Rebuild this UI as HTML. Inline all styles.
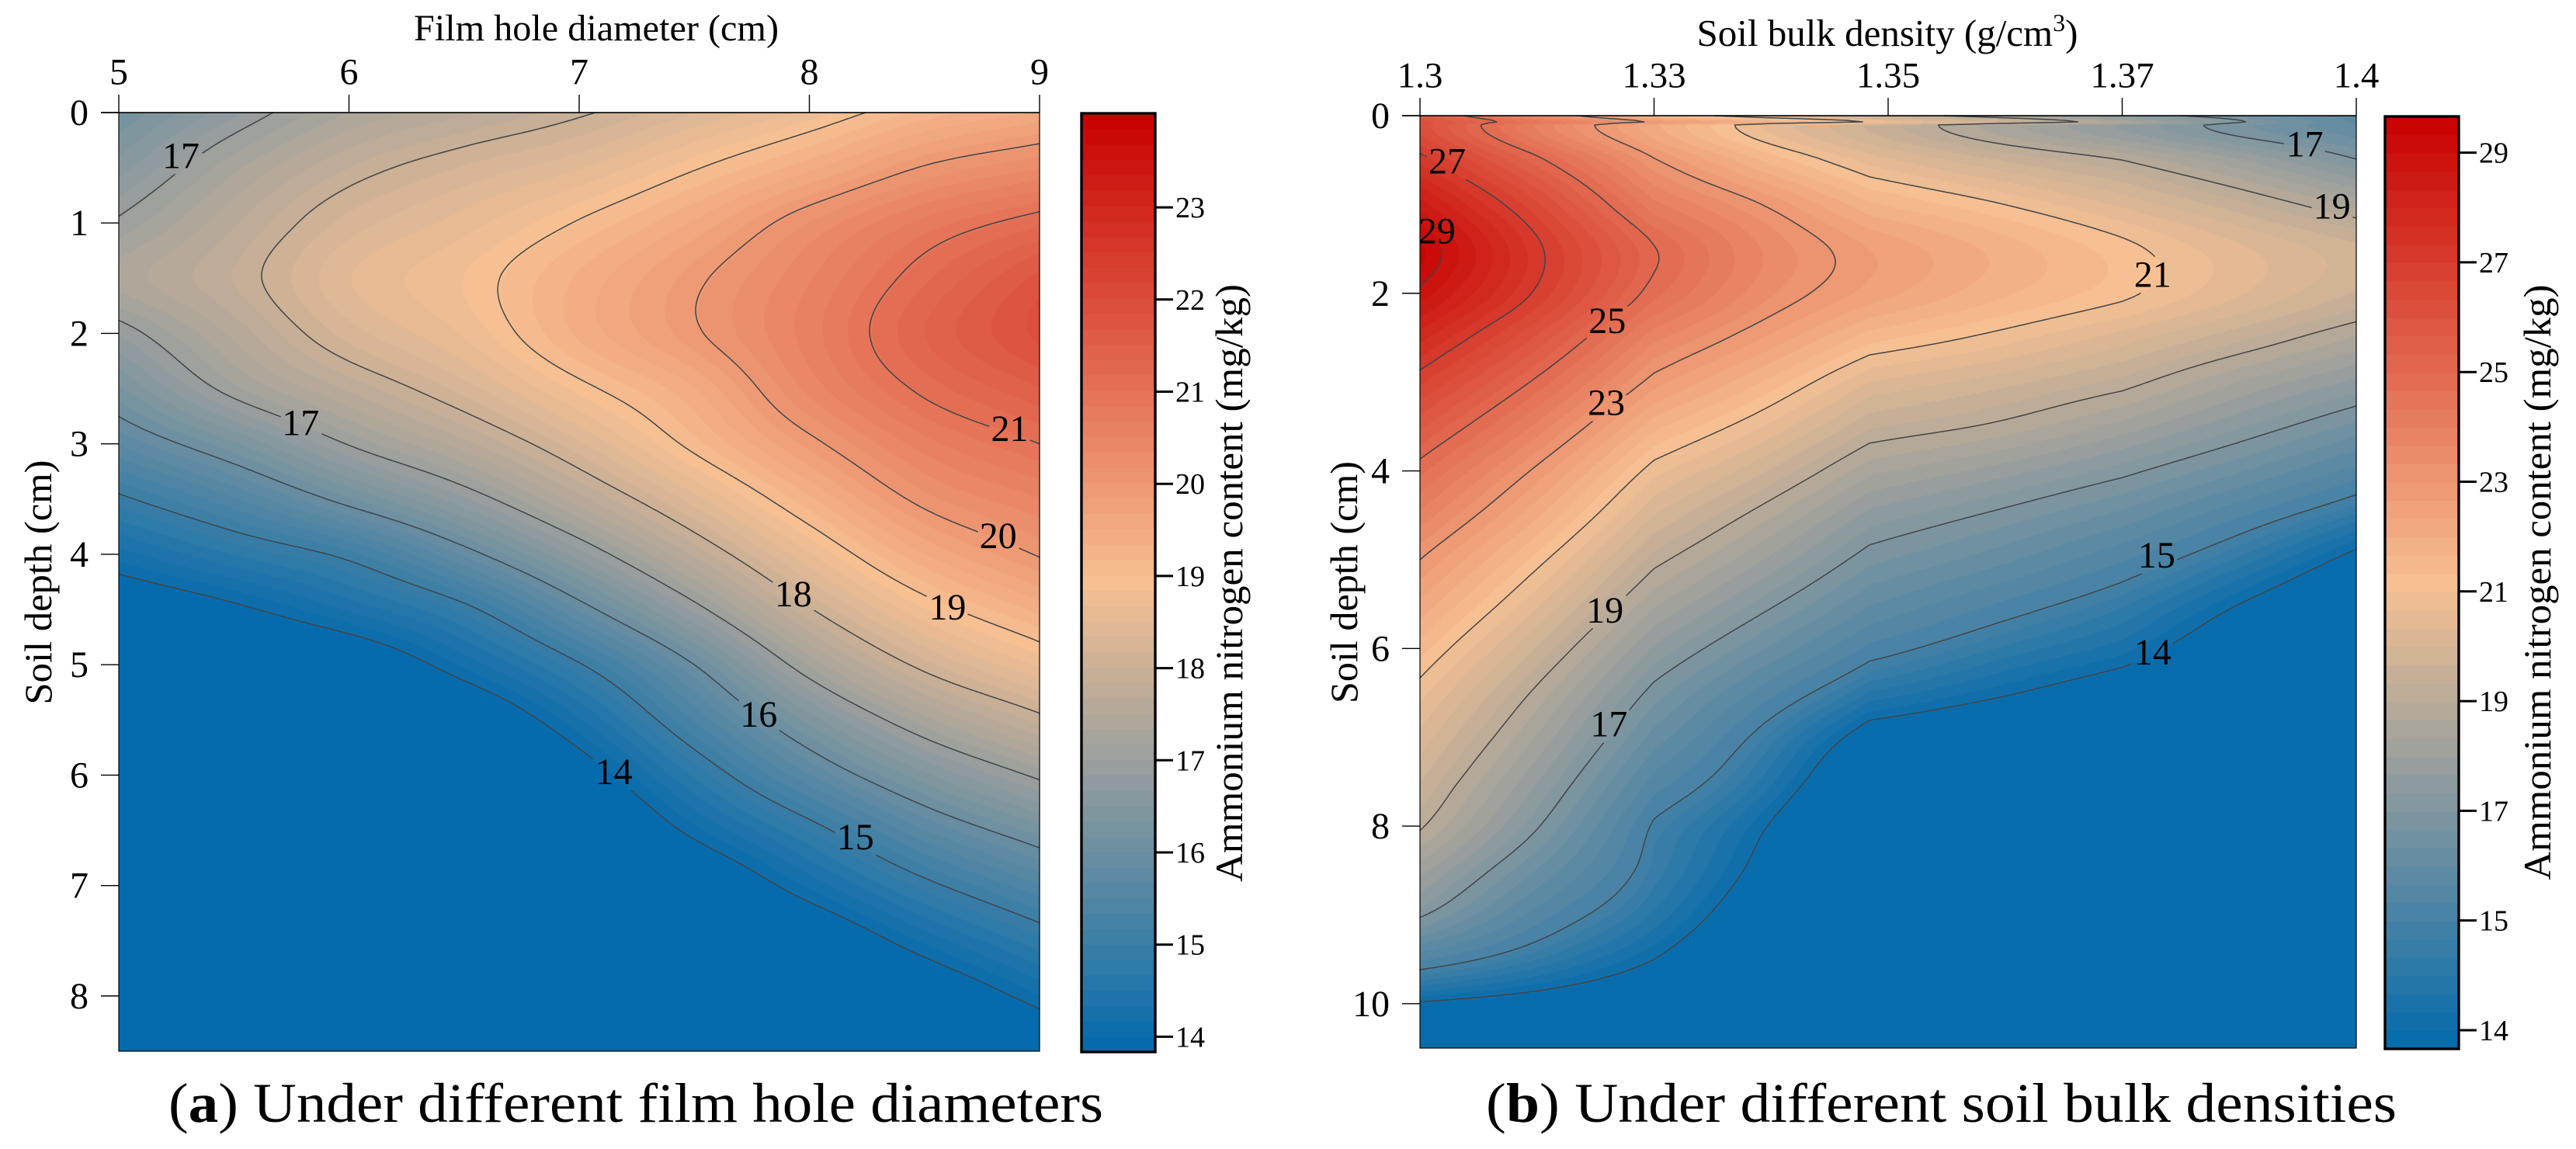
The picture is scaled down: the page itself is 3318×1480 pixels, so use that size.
<!DOCTYPE html>
<html lang="en">
<head>
<meta charset="utf-8">
<title>Ammonium nitrogen contour maps</title>
<style>
html,body{margin:0;padding:0;background:#fff;width:3318px;height:1480px;overflow:hidden}
svg{display:block;font-family:"Liberation Serif",serif;fill:#000}
</style>
</head>
<body>
<svg id="figure" width="3318" height="1480" viewBox="0 0 3318 1480" xmlns="http://www.w3.org/2000/svg">
<rect x="0" y="0" width="3318" height="1480" fill="#fff"/>
<g id="panel-a"></g>
<g id="panel-b"></g>
<text x="768" y="52" font-size="48" text-anchor="middle" textLength="470" lengthAdjust="spacingAndGlyphs">Film hole diameter (cm)</text>
<text transform="translate(66,750) rotate(-90)" font-size="50" text-anchor="middle" textLength="315" lengthAdjust="spacingAndGlyphs">Soil depth (cm)</text>
<text transform="translate(1600,751) rotate(-90)" font-size="50" text-anchor="middle" textLength="770" lengthAdjust="spacingAndGlyphs">Ammonium nitrogen content (mg/kg)</text>
<text x="217" y="1445" font-size="72" textLength="1204" lengthAdjust="spacingAndGlyphs">(<tspan font-weight="bold">a</tspan>) Under different film hole diameters</text>
<text x="2431" y="59" font-size="49" text-anchor="middle">Soil bulk density (g/cm<tspan font-size="32" dy="-19">3</tspan><tspan dy="19">)</tspan></text>
<text transform="translate(1748,750) rotate(-90)" font-size="50" text-anchor="middle" textLength="312" lengthAdjust="spacingAndGlyphs">Soil depth (cm)</text>
<text transform="translate(3285,750) rotate(-90)" font-size="50" text-anchor="middle" textLength="767" lengthAdjust="spacingAndGlyphs">Ammonium nitrogen content (mg/kg)</text>
<text x="1914" y="1445" font-size="72" textLength="1173" lengthAdjust="spacingAndGlyphs">(<tspan font-weight="bold">b</tspan>) Under different soil bulk densities</text>
</svg>
<script>
// ---- Panel (a): film hole diameter ----
const holeColumns = [5, 5.5, 6, 6.5, 7, 7.5, 8, 8.5, 9];
const depthRowsA = [0, 0.5, 1, 1.5, 2, 2.5, 3, 3.5, 4, 4.5, 5, 5.5, 6, 6.5, 7, 7.5, 8, 8.5];
const hole5  = [16.2,16.6,17.05,17.4,16.85,16.3,15.68,14.93,14.25,13.6,13.3,13.1,13,13,13,13,13,13];
const hole55 = [16.8,17.3,17.65,17.85,17.55,17.12,16.3,15.47,14.67,13.92,13.4,13.1,13,13,13,13,13,13];
const hole6  = [17.35,17.85,18.25,18.5,18.25,17.7,17.02,16.13,15.1,14.35,13.6,13.2,13,13,13,13,13,13];
const hole65 = [17.65,18.2,18.6,18.85,18.7,18.25,17.6,16.8,15.86,14.9,14.2,13.55,13.2,13,13,13,13,13];
const hole7  = [17.95,18.5,19.03,19.38,19.38,18.9,18.3,17.6,16.75,15.85,14.97,14.3,13.75,13.3,13,13,13,13];
const hole75 = [18.35,18.97,19.55,19.93,19.95,19.5,19.1,18.43,17.7,16.88,16,15.35,14.7,14.1,13.5,13.2,13,13];
const hole8  = [18.75,19.47,20.2,20.5,20.6,20.4,19.9,19.3,18.65,17.97,17.2,16.4,15.65,14.85,14.2,13.55,13.1,13];
const hole85 = [19.25,20.03,20.75,21.15,21.35,21.07,20.6,20.1,19.5,18.82,18.1,17.27,16.45,15.65,14.9,14.2,13.55,13];
const hole9  = [19.55,20.35,21.15,21.75,21.9,21.5,21,20.5,20.03,19.4,18.7,17.9,17.07,16.25,15.48,14.78,14.15,13.5];
const xTicksA = [5, 6, 7, 8, 9];
const xTickLabelsA = ['5', '6', '7', '8', '9'];
const yTicksA = [0, 1, 2, 3, 4, 5, 6, 7, 8];
const contourLevelsA = [14, 15, 16, 17, 18, 19, 20, 21];
const barTicksA = [14, 15, 16, 17, 18, 19, 20, 21, 22, 23];
const labelValuesA = ['17', '17', '21', '20', '19', '18', '16', '15', '14'];
const labelHoleA = [5.27, 5.79, 8.87, 8.82, 8.6, 7.93, 7.78, 8.2, 7.15];
const labelDepthA = [0.39, 2.81, 2.86, 3.83, 4.48, 4.36, 5.45, 6.56, 5.97];

// ---- Panel (b): soil bulk density ----
const densityColumns = [1.3, 1.3125, 1.325, 1.3365, 1.348, 1.3615, 1.375, 1.3875, 1.4];
const depthRowsB = [0, 0.07, 0.1, 0.5, 1, 1.5, 2, 2.5, 3, 3.5, 4, 4.5, 5, 5.5, 6, 6.5, 7, 7.5, 8, 8.5, 9, 9.5, 10, 10.5];
const density1300 = [25.8,26.2,26.2,27.22,28.5,29.42,28.87,27.78,26.72,25.72,24.75,23.88,23,22.24,21.47,20.78,20.2,19.65,19.08,18.11,17.08,15.36,13.95,13];
const density1312 = [23.7,24.4,23.94,25.15,26.4,27.12,26.9,25.9,24.88,23.87,22.88,22.03,21.17,20.38,19.6,18.88,18.27,17.66,17.05,16.28,15.49,14.65,13.75,13];
const density1325 = [21.7,22.87,22.08,23.05,24.1,25.03,24.75,23.75,22.8,21.75,20.78,19.97,19.16,18.37,17.57,16.82,16.16,15.5,14.93,14.75,14.45,14,13.5,13];
const density1336 = [20.5,21.9,20.67,21.66,23,23.65,23.45,22.65,21.63,20.65,19.7,18.8,18,17.18,16.35,15.5,14.85,14.45,14.05,13.85,13.6,13.3,13,13];
const density1348 = [19.6,20.94,19.6,20.53,21.75,22.65,22.5,21.45,20.3,19.36,18.41,17.52,16.75,16,15.22,14.46,13.75,13.3,13,13,13,13,13,13];
const density1361 = [18.57,19.8,18.52,19.7,21.05,21.9,21.75,20.85,19.8,18.9,17.83,16.9,16.1,15.3,14.65,14.07,13.5,13.2,13,13,13,13,13,13];
const density1375 = [17.45,18.56,17.6,19,20.27,21.15,21.12,20.15,19.2,18.17,17.15,16.2,15.35,14.7,14.23,13.7,13.3,13,13,13,13,13,13,13];
const density1387 = [16.57,17.07,16.75,18.05,19.45,20.4,20.35,19.4,18.3,17.35,16.35,15.35,14.6,14,13.6,13.2,13,13,13,13,13,13,13,13];
const density1400 = [15.8,15.95,16,17.03,18.57,19.75,19.6,18.6,17.55,16.53,15.5,14.6,13.85,13.4,13.1,13,13,13,13,13,13,13,13,13];
const xTicksB = [1.3, 1.325, 1.35, 1.375, 1.4];
const xTickLabelsB = ['1.3', '1.33', '1.35', '1.37', '1.4'];
const yTicksB = [0, 2, 4, 6, 8, 10];
const contourLevelsB = [14, 15, 17, 19, 21, 23, 25, 27, 29];
const barTicksB = [14, 15, 17, 19, 21, 23, 25, 27, 29];
const labelValuesB = ['27', '29', '25', '23', '21', '19', '17', '19', '17', '15', '14'];
const labelDensityB = [1.3029, 1.3018, 1.32, 1.3199, 1.37825, 1.3974, 1.3945, 1.31975, 1.32018, 1.37868, 1.37825];
const labelDepthB = [0.51, 1.3, 2.31, 3.23, 1.79, 1.02, 0.32, 5.57, 6.85, 4.95, 6.04];

const SVGNS = 'http://www.w3.org/2000/svg';
function svgEl(tag, attrs, parent) {
  const e = document.createElementNS(SVGNS, tag);
  for (const k in attrs) e.setAttribute(k, attrs[k]);
  parent.appendChild(e);
  return e;
}
// depth-direction tangents: central differences, limited where knot spacing changes abruptly
function depthSlopes(xs, ys) {
  const n = xs.length, m = new Array(n), h = [], s = [];
  for (let i = 0; i < n - 1; i++) { h[i] = xs[i + 1] - xs[i]; s[i] = (ys[i + 1] - ys[i]) / h[i]; }
  m[0] = s[0]; m[n - 1] = s[n - 2];
  for (let i = 1; i < n - 1; i++) {
    const ratio = Math.max(h[i], h[i - 1]) / Math.min(h[i], h[i - 1]);
    if (ratio > 1.5) {
      if (s[i - 1] * s[i] <= 0) m[i] = 0;
      else {
        const w1 = 2 * h[i] + h[i - 1], w2 = h[i] + 2 * h[i - 1];
        m[i] = (w1 + w2) / (w1 / s[i - 1] + w2 / s[i]);
      }
    } else {
      m[i] = (s[i - 1] * h[i] + s[i] * h[i - 1]) / (h[i] + h[i - 1]);
    }
  }
  return m;
}
function hermite(xs, ys, m, x) {
  let i = 0;
  const n = xs.length;
  if (x <= xs[0]) return ys[0];
  if (x >= xs[n - 1]) return ys[n - 1];
  while (i < n - 2 && x > xs[i + 1]) i++;
  const h = xs[i + 1] - xs[i], t = (x - xs[i]) / h, t2 = t * t, t3 = t2 * t;
  return (2 * t3 - 3 * t2 + 1) * ys[i] + (t3 - 2 * t2 + t) * h * m[i] + (-2 * t3 + 3 * t2) * ys[i + 1] + (t3 - t2) * h * m[i + 1];
}
function colorAt(t) {
  const blue = [2, 106, 173], orange = [247, 192, 146], red = [200, 0, 0];
  const a = t < 0.5 ? blue : orange, b = t < 0.5 ? orange : red;
  const f = t < 0.5 ? t * 2 : (t - 0.5) * 2;
  return 'rgb(' + [0, 1, 2].map(i => Math.round(a[i] + (b[i] - a[i]) * f)).join(',') + ')';
}

function drawPanel(cfg) {
  const root = document.getElementById(cfg.id);
  const W = cfg.right - cfg.left, H = cfg.bottom - cfg.top;
  const xScale = v => (v - cfg.xMin) / (cfg.xMax - cfg.xMin) * W;
  const yScale = d => (d - cfg.dMin) / (cfg.dMax - cfg.dMin) * H;
  const bandOf = z => {
    const t = Math.max(0, Math.min(0.9999, cfg.fraction(z)));
    return Math.floor(t * cfg.bands);
  };

  // evaluate the value field
  const colX = cfg.columns.map(xScale);
  const nc = colX.length;
  const colSlopes = cfg.series.map(s => depthSlopes(cfg.depths, s));
  const stepY = 2, nx = W + 1, ny = Math.floor(H / stepY) + 1;
  const field = new Float32Array(nx * ny);
  const mL = new Array(nc), mR = new Array(nc);
  for (let r = 0; r < ny; r++) {
    const d = cfg.dMin + (r * stepY) / H * (cfg.dMax - cfg.dMin);
    const vals = cfg.series.map((s, c) => hermite(cfg.depths, s, colSlopes[c], d));
    for (let c = 0; c < nc; c++) {
      const sl = c > 0 ? (vals[c] - vals[c - 1]) / (colX[c] - colX[c - 1]) : null;
      const sr = c < nc - 1 ? (vals[c + 1] - vals[c]) / (colX[c + 1] - colX[c]) : null;
      if (sl === null) { mL[c] = mR[c] = sr; }
      else if (sr === null) { mL[c] = mR[c] = sl; }
      else if (cfg.kinks.indexOf(c) >= 0) { mL[c] = sl; mR[c] = sr; }
      else {
        const h0 = colX[c] - colX[c - 1], h1 = colX[c + 1] - colX[c];
        mL[c] = mR[c] = (sl * h1 + sr * h0) / (h0 + h1);
      }
    }
    let seg = 0;
    for (let x = 0; x < nx; x++) {
      while (seg < nc - 2 && x > colX[seg + 1]) seg++;
      const h = colX[seg + 1] - colX[seg], t = (x - colX[seg]) / h, t2 = t * t, t3 = t2 * t;
      field[r * nx + x] = (2 * t3 - 3 * t2 + 1) * vals[seg] + (t3 - 2 * t2 + t) * h * mR[seg] + (-2 * t3 + 3 * t2) * vals[seg + 1] + (t3 - t2) * h * mL[seg + 1];
    }
  }

  // plot group
  const plot = svgEl('g', { transform: 'translate(' + cfg.left + ',' + cfg.top + ')' }, root);
  
  

  // filled bands from horizontal runs
  const bandPaths = [];
  for (let i = 0; i < cfg.bands; i++) bandPaths.push([]);
  for (let r = 0; r < ny; r++) {
    const y = r * stepY;
    const rowH = Math.min(stepY, H - y);
    if (rowH <= 0) continue;
    let start = 0, cur = bandOf(field[r * nx]);
    for (let x = 1; x <= W; x++) {
      const b = x < W ? bandOf(field[r * nx + x]) : -1;
      if (b !== cur) {
        bandPaths[cur].push('M' + start + ' ' + y + 'h' + (x - start) + 'v' + rowH + 'h-' + (x - start) + 'z');
        start = x; cur = b;
      }
    }
  }
  bandPaths.forEach((parts, i) => {
    if (!parts.length) return;
    const p = svgEl('path', { d: parts.join(''), fill: colorAt((i + 0.5) / cfg.bands), 'shape-rendering': 'crispEdges' }, plot);
    
    
  });

  // contour lines
  const rects = cfg.labelValues.map((v, i) => ({ x: xScale(cfg.labelX[i]), y: yScale(cfg.labelDepth[i]) }));
  const inLabel = (x, y) => rects.some(q => Math.abs(x - q.x) < 27 && Math.abs(y - q.y) < 24);
  const stepX = 2;
  cfg.levels.forEach(level => {
    const parts = [];
    for (let r = 0; r < ny - 1; r++) {
      const y0 = r * stepY, y1 = (r + 1) * stepY;
      for (let x0 = 0; x0 + stepX < nx; x0 += stepX) {
        const x1 = x0 + stepX;
        const a = field[r * nx + x0], b = field[r * nx + x1], c = field[(r + 1) * nx + x1], d = field[(r + 1) * nx + x0];
        const idx = (a >= level ? 8 : 0) | (b >= level ? 4 : 0) | (c >= level ? 2 : 0) | (d >= level ? 1 : 0);
        if (idx === 0 || idx === 15) continue;
        const top = [x0 + (level - a) / (b - a) * stepX, y0];
        const right = [x1, y0 + (level - b) / (c - b) * stepY];
        const bot = [x0 + (level - d) / (c - d) * stepX, y1];
        const left = [x0, y0 + (level - a) / (d - a) * stepY];
        let segs = [];
        switch (idx) {
          case 1: case 14: segs = [[left, bot]]; break;
          case 2: case 13: segs = [[bot, right]]; break;
          case 3: case 12: segs = [[left, right]]; break;
          case 4: case 11: segs = [[top, right]]; break;
          case 6: case 9: segs = [[top, bot]]; break;
          case 7: case 8: segs = [[left, top]]; break;
          case 5: segs = [[left, top], [bot, right]]; break;
          case 10: segs = [[left, bot], [top, right]]; break;
        }
        segs.forEach(s => {
          const mx = (s[0][0] + s[1][0]) / 2, my = (s[0][1] + s[1][1]) / 2;
          if (inLabel(mx, my)) return;
          parts.push('M' + s[0][0].toFixed(1) + ' ' + s[0][1].toFixed(1) + 'L' + s[1][0].toFixed(1) + ' ' + s[1][1].toFixed(1));
        });
      }
    }
    const line = svgEl('path', { d: parts.join(''), fill: 'none', stroke: '#404548', 'stroke-width': 1.5, 'stroke-linecap': 'round' }, plot);
    
    
  });

  // contour labels, clipped to the plot
  const clip = svgEl('clipPath', { id: cfg.id + '-clip' }, plot);
  svgEl('rect', { x: 0, y: 0, width: W, height: H }, clip);
  const labels = svgEl('g', { 'clip-path': 'url(#' + cfg.id + '-clip)' }, plot);
  
  
  cfg.labelValues.forEach((v, i) => {
    const t = svgEl('text', { x: xScale(cfg.labelX[i]), y: yScale(cfg.labelDepth[i]) + 16, 'font-size': 48, 'text-anchor': 'middle' }, labels);
    t.textContent = v;
    
    
  });

  // plot frame
  const frame = svgEl('rect', { x: 0, y: 0, width: W, height: H, fill: 'none', stroke: '#000', 'stroke-width': 1.2 }, plot);
  
  

  // x axis (top)
  const topAxis = svgEl('line', { x1: cfg.left - 23, x2: cfg.right, y1: cfg.top, y2: cfg.top, stroke: '#000', 'stroke-width': 1.6 }, root);
  
  
  cfg.xTicks.forEach((v, i) => {
    const x = cfg.left + xScale(v);
    const tick = svgEl('line', { x1: x, x2: x, y1: cfg.top - 23, y2: cfg.top, stroke: '#000', 'stroke-width': 1.4 }, root);
    
    
    const lab = svgEl('text', { x: x, y: cfg.top - 36.5, 'font-size': cfg.xTickFont, 'text-anchor': 'middle' }, root);
    lab.textContent = cfg.xTickLabels[i];
    
    
  });

  // y axis (left)
  cfg.yTicks.forEach(v => {
    const y = cfg.top + yScale(v);
    const tick = svgEl('line', { x1: cfg.left - 23, x2: cfg.left, y1: y, y2: y, stroke: '#000', 'stroke-width': 1.4 }, root);
    
    
    const lab = svgEl('text', { x: cfg.left - 39, y: y + 16, 'font-size': 48, 'text-anchor': 'end' }, root);
    lab.textContent = String(v);
    
    
  });

  // colour bar
  const bar = svgEl('g', {}, root);
  
  
  const bh = cfg.barBottom - cfg.barTop;
  for (let i = 0; i < cfg.bands; i++) {
    const y1 = cfg.barBottom - (i + 1) / cfg.bands * bh;
    const seg = svgEl('rect', { x: cfg.barLeft, y: y1, width: cfg.barRight - cfg.barLeft, height: bh / cfg.bands + 0.6, fill: colorAt((i + 0.5) / cfg.bands) }, bar);
    
    
  }
  const outline = svgEl('rect', { x: cfg.barLeft, y: cfg.barTop, width: cfg.barRight - cfg.barLeft, height: bh, fill: 'none', stroke: '#000', 'stroke-width': 3.4 }, bar);
  
  
  cfg.barTicks.forEach(v => {
    const y = cfg.barBottom - cfg.fraction(v) * bh;
    const tick = svgEl('line', { x1: cfg.barRight, x2: cfg.barRight + 23, y1: y, y2: y, stroke: '#000', 'stroke-width': 3 }, bar);
    
    
    const lab = svgEl('text', { x: cfg.barRight + 26, y: y + 13, 'font-size': 38 }, bar);
    lab.textContent = String(v);
    
    
  });
}

drawPanel({
  id: 'panel-a', left: 153, right: 1339, top: 145, bottom: 1354,
  xMin: 5, xMax: 9, dMin: 0, dMax: 8.5,
  columns: holeColumns, depths: depthRowsA,
  series: [hole5, hole55, hole6, hole65, hole7, hole75, hole8, hole85, hole9],
  kinks: [], bands: 61,
  fraction: z => ((z - 14) + 0.165) / 10.185,
  levels: contourLevelsA,
  labelValues: labelValuesA, labelX: labelHoleA, labelDepth: labelDepthA,
  xTicks: xTicksA, xTickLabels: xTickLabelsA, xTickFont: 48, yTicks: yTicksA,
  barLeft: 1393, barRight: 1488, barTop: 146, barBottom: 1355, barTicks: barTicksA
});
drawPanel({
  id: 'panel-b', left: 1829, right: 3035, top: 149, bottom: 1350,
  xMin: 1.3, xMax: 1.4, dMin: 0, dMax: 10.5,
  columns: densityColumns, depths: depthRowsB,
  series: [density1300, density1312, density1325, density1336, density1348, density1361, density1375, density1387, density1400],
  kinks: [2, 4, 6], bands: 51,
  fraction: z => ((z >= 15 ? (z - 15) / 2 + 1 : z - 14) + 0.17) / 8.5,
  levels: contourLevelsB,
  labelValues: labelValuesB, labelX: labelDensityB, labelDepth: labelDepthB,
  xTicks: xTicksB, xTickLabels: xTickLabelsB, xTickFont: 47, yTicks: yTicksB,
  barLeft: 3072, barRight: 3167, barTop: 150, barBottom: 1351, barTicks: barTicksB
});
</script>
</body>
</html>
